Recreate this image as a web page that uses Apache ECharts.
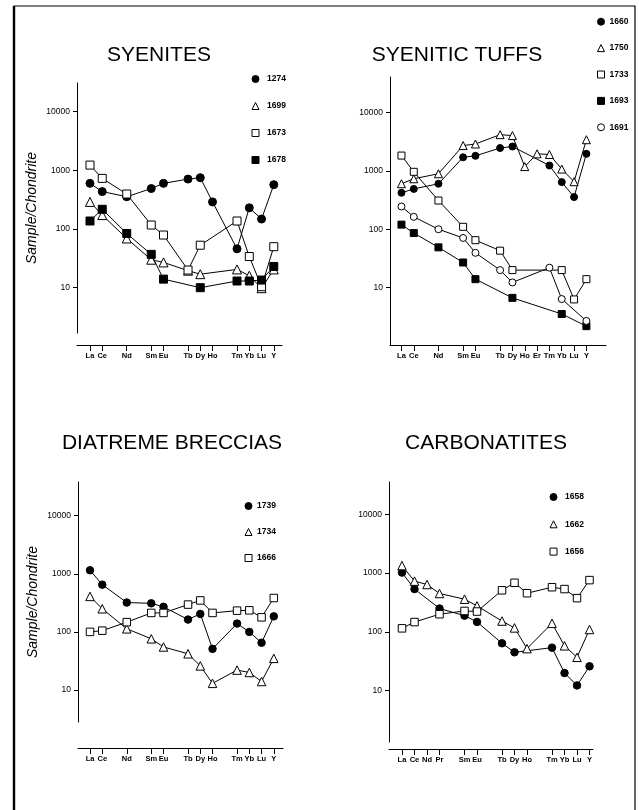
<!DOCTYPE html>
<html><head><meta charset="utf-8">
<script src="https://cdn.jsdelivr.net/npm/echarts@6/dist/echarts.min.js"></script>
<style>html,body{margin:0;padding:0;background:#fff}#c{width:639px;height:810px}</style>
</head><body><div id="c"></div>
<script>
// ---------- DATA ----------
// element tick labels and their positions (atomic-number order) per panel
const syeniteLabels = ['La','Ce','Nd','Sm','Eu','Tb','Dy','Ho','Tm','Yb','Lu','Y'];
const syenitePos    = [57,58,60,62,63,65,66,67,69,70,71,72];
const tuffLabels    = ['La','Ce','Nd','Sm','Eu','Tb','Dy','Ho','Er','Tm','Yb','Lu','Y'];
const tuffPos       = [57,58,60,62,63,65,66,67,68,69,70,71,72];
const brecciaLabels = ['La','Ce','Nd','Sm','Eu','Tb','Dy','Ho','Tm','Yb','Lu','Y'];
const brecciaPos    = [57,58,60,62,63,65,66,67,69,70,71,72];
const carbLabels    = ['La','Ce','Nd','Pr','Sm','Eu','Tb','Dy','Ho','Tm','Yb','Lu','Y'];
const carbPos       = [57,58,59,60,62,63,65,66,67,69,70,71,72];
const yTickValues   = [10,100,1000,10000];

// SYENITES (sample / chondrite)
const s1274 = [600,435,355,490,600,710,750,290,46,230,148,570];
const s1699 = [290,173,69,30,27,19.5,17,null,20.5,16,9.8,20.5];
const s1673 = [1230,730,395,117,79,20,53,null,137,34,10.4,50];
const s1678 = [137,217,84,37,14,null,10,null,13,13,13.5,23];

// SYENITIC TUFFS
const t1660 = [420,490,600,1700,1800,2450,2600,null,null,1230,640,355,1950];
const t1750 = [600,730,890,2700,2870,4150,4000,1180,1950,1900,1070,650,3400];
const t1733 = [1820,960,310,110,65,43,20,null,null,null,20,6.3,14];
const t1693 = [120,86,49,27,14,null,6.7,null,null,null,3.55,null,2.2];
const t1691 = [245,163,100,71,39.5,20,12.3,null,null,22,6.4,null,2.7];

// DIATREME BRECCIAS
const b1739 = [1150,650,320,310,270,163,204,51,139,100,65,185];
const b1734 = [408,250,113,76,55,42,26,13,22,20,14,35];
const b1666 = [100,105,147,212,212,295,348,212,232,235,178,383];

// CARBONATITES
const c1658 = [1020,535,null,250,189,148,64,45,null,54,20,12.3,26];
const c1662 = [1340,730,640,450,360,277,153,117,52,140,58,37,110];
const c1656 = [115,147,null,200,227,222,510,685,455,575,535,375,760];

// ---------- LAYOUT ----------
const FONT = '"Liberation Sans", Arial, sans-serif';
const FILLED = '#000', OPEN = '#fff';

const panels = [
  { title:'SYENITES', tx:159, ty:45, left:77, top:83, width:205, height:250, xoff:12,
    xmin:55.94, xmax:72.67, ymin:1.69, ymax:30830, yname:'Sample/Chondrite',
    labels:syeniteLabels, pos:syenitePos, sym:8,
    leg:{left:251.5, top:74.5, gap:18, pad:3},
    series:[
      {name:'1274', d:s1274, s:'circle', f:FILLED},
      {name:'1699', d:s1699, s:'triangle', f:OPEN},
      {name:'1673', d:s1673, s:'rect', f:OPEN},
      {name:'1678', d:s1678, s:'rect', f:FILLED}]},
  { title:'SYENITIC TUFFS', tx:457, ty:45, left:390, top:77, width:216, height:268, xoff:0,
    xmin:56.07, xmax:73.59, ymin:1.047, ymax:40190, yname:'',
    labels:tuffLabels, pos:tuffPos, sym:7,
    leg:{left:597, top:17.2, gap:17.4, pad:0},
    series:[
      {name:'1660', d:t1660, s:'circle', f:FILLED},
      {name:'1750', d:t1750, s:'triangle', f:OPEN},
      {name:'1733', d:t1733, s:'rect', f:OPEN},
      {name:'1693', d:t1693, s:'rect', f:FILLED},
      {name:'1691', d:t1691, s:'circle', f:OPEN}]},
  { title:'DIATREME BRECCIAS', tx:172, ty:433, left:78, top:482, width:205, height:240, xoff:26,
    xmin:56.02, xmax:72.75, ymin:2.81, ymax:38020, yname:'Sample/Chondrite',
    labels:brecciaLabels, pos:brecciaPos, sym:7.5,
    leg:{left:244.5, top:501.5, gap:17, pad:0},
    series:[
      {name:'1739', d:b1739, s:'circle', f:FILLED},
      {name:'1734', d:b1734, s:'triangle', f:OPEN},
      {name:'1666', d:b1666, s:'rect', f:OPEN}]},
  { title:'CARBONATITES', tx:486, ty:433, left:389, top:482, width:204, height:260, xoff:7,
    xmin:55.96, xmax:72.28, ymin:1.343, ymax:35400, yname:'',
    labels:carbLabels, pos:carbPos, sym:7.5,
    leg:{left:549.5, top:492.5, gap:18.3, pad:3},
    series:[
      {name:'1658', d:c1658, s:'circle', f:FILLED},
      {name:'1662', d:c1662, s:'triangle', f:OPEN},
      {name:'1656', d:c1656, s:'rect', f:OPEN}]}
];

const option = {
  animation:false, backgroundColor:'#fff',
  title:[], grid:[], xAxis:[], yAxis:[], legend:[], series:[],
  graphic:[
    {type:'rect', silent:true, shape:{x:14, y:6, width:621, height:830}, style:{fill:'none', stroke:'#000', lineWidth:1.2}},
    {type:'line', silent:true, shape:{x1:14, y1:6, x2:14, y2:810}, style:{stroke:'#000', lineWidth:2.4}}
  ]
};

panels.forEach((p, i) => {
  option.title.push({text:p.title, left:p.tx, top:p.ty, textAlign:'center', padding:0,
    textStyle:{fontFamily:FONT, fontSize:21, fontWeight:'normal', color:'#000'}});
  option.grid.push({left:p.left, top:p.top, width:p.width, height:p.height});
  option.xAxis.push({type:'value', gridIndex:i, min:p.xmin, max:p.xmax, offset:p.xoff,
    axisLine:{show:true, onZero:false, lineStyle:{color:'#000', width:1}},
    axisTick:{show:true, inside:false, length:6, customValues:p.pos, lineStyle:{color:'#000', width:1}},
    axisLabel:{customValues:p.pos, margin:7, fontSize:7.5, fontWeight:'bold', fontFamily:FONT, color:'#000',
      formatter:v => p.labels[p.pos.indexOf(Math.round(v))] || ''},
    splitLine:{show:false}});
  option.yAxis.push({type:'log', logBase:10, gridIndex:i, min:p.ymin, max:p.ymax,
    axisLine:{show:true, onZero:false, lineStyle:{color:'#000', width:1}},
    axisTick:{show:true, inside:false, length:4, customValues:yTickValues, lineStyle:{color:'#000', width:1}},
    axisLabel:{customValues:yTickValues, margin:7, fontSize:8.5, fontFamily:FONT, color:'#000',
      formatter:v => String(Math.round(v))},
    splitLine:{show:false},
    name:p.yname, nameLocation:'middle', nameGap:38,
    nameTextStyle:{fontFamily:FONT, fontSize:14, fontStyle:'italic', color:'#000'}});
  option.legend.push({orient:'vertical', left:p.leg.left, top:p.leg.top, padding:0,
    itemWidth:7, itemHeight:7, itemGap:p.leg.gap, selectedMode:false,
    textStyle:{fontFamily:FONT, fontSize:8.5, fontWeight:'bold', color:'#000', lineHeight:7, padding:[0,0,0,p.leg.pad]},
    data:p.series.map(s => ({name:s.name, icon:s.s,
      itemStyle:{color:s.f, borderColor:'#000', borderWidth:1}}))});
  p.series.forEach(s => {
    option.series.push({type:'line', name:s.name, xAxisIndex:i, yAxisIndex:i,
      data:p.pos.map((x, k) => [x, s.d[k]]).filter(d => d[1] != null),
      symbol:s.s, symbolSize:s.s === 'triangle' ? p.sym + 1 : p.sym, showAllSymbol:true,
      itemStyle:{color:s.f, borderColor:'#000', borderWidth:1},
      lineStyle:{color:'#000', width:1}, emphasis:{disabled:true}});
  });
});

const chart = echarts.init(document.getElementById('c'), null, {renderer:'canvas'});
chart.setOption(option);
</script>
</body></html>
